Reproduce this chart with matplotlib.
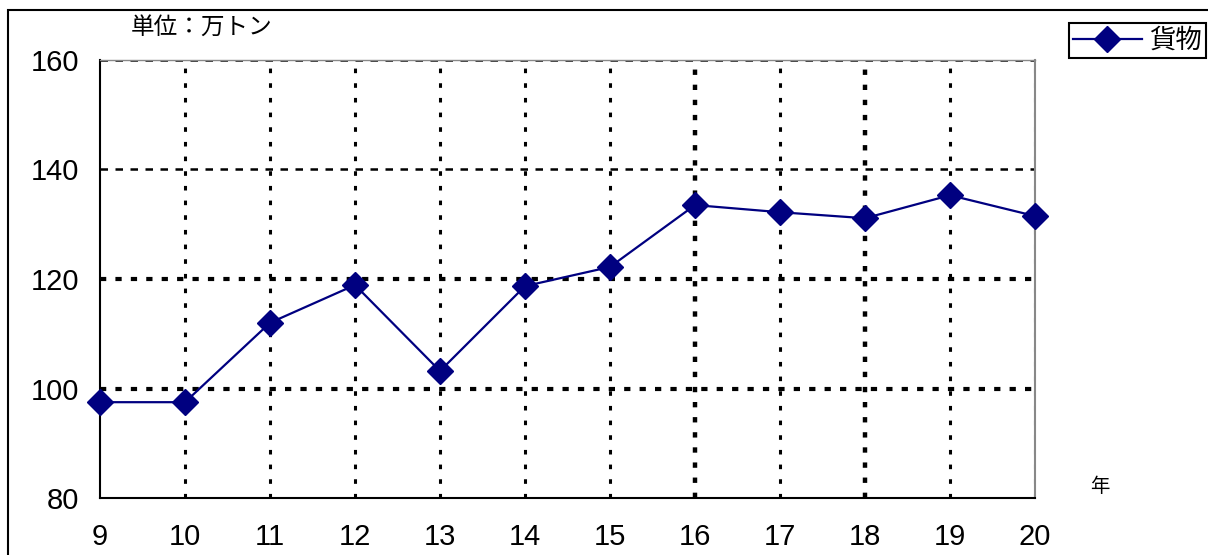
import matplotlib
matplotlib.use("Agg")
import matplotlib.pyplot as plt
from matplotlib.patches import Rectangle

years = [9, 10, 11, 12, 13, 14, 15, 16, 17, 18, 19, 20]
cargo = [97.5, 97.5, 112.0, 118.9, 103.2, 118.7, 122.2, 133.5, 132.2, 131.1, 135.3, 131.5]
yticks = [80, 100, 120, 140, 160]
series_name = "貨物"
unit_label = "単位：万トン"
x_label = "年"

plt.rcParams['font.family'] = ['Liberation Sans', 'Noto Sans CJK JP', 'DejaVu Sans']

W, H = 1208, 555
fig = plt.figure(figsize=(W/100, H/100), dpi=100)
ax = fig.add_axes([100/W, 1-498/H, (1035-100)/W, (498-60)/H])

# outer frame
fig.patches.append(Rectangle((8/W, -0.2), 2.0, 1-10/H+0.2, transform=fig.transFigure,
                             fill=False, edgecolor='black', linewidth=1.5, zorder=0))

ax.plot(years, cargo, color='#000080', linewidth=1.6, marker='D', markersize=13,
        markerfacecolor='#000080', markeredgecolor='#000080', label=series_name,
        clip_on=False, zorder=5)

ax.set_xlim(9, 20)
ax.set_ylim(80, 160)
ax.set_xticks(years)
ax.set_xticklabels([str(y) for y in years])
ax.set_yticks(yticks)
ax.tick_params(axis='both', length=0, labelsize=21)
ax.tick_params(axis='x', pad=18)
ax.tick_params(axis='y', pad=15)

# grid lines (drawn from tick positions)
thick_y = [100, 120]
thick_x = [16, 18]
for yv in yticks[1:]:
    if yv in thick_y:
        ax.axhline(yv, color='black', linewidth=3.0, linestyle=(0, (1.5, 2.2)), zorder=1)
    else:
        ax.axhline(yv, color='black', linewidth=1.8, linestyle=(0, (3.0, 3.0)), zorder=1)
for xv in years[1:]:
    if xv in thick_x:
        ax.axvline(xv, color='black', linewidth=3.2, linestyle=(0, (1.2, 2.2)), zorder=1)
    else:
        ax.axvline(xv, color='black', linewidth=2.2, linestyle=(0, (1.5, 3.3)), zorder=1)

for s in ['left', 'bottom']:
    ax.spines[s].set_color('black')
    ax.spines[s].set_linewidth(1.5)
ax.spines['right'].set_color('#888888')
ax.spines['right'].set_linewidth(1.5)
ax.spines['top'].set_color('#888888')
ax.spines['top'].set_linewidth(1.0)

fig.text(202/W, 1-27/H, unit_label, ha='center', va='center', fontsize=17,
         family=['Noto Sans CJK JP', 'DejaVu Sans'])
fig.text(1100/W, 1-487/H, x_label, ha='center', va='center', fontsize=14,
         family=['Noto Sans CJK JP', 'DejaVu Sans'])

leg = fig.legend(loc='upper left', bbox_to_anchor=(1069/W, 1-23/H), fancybox=False,
                 framealpha=1, edgecolor='black', handlelength=2.6, borderpad=0.15,
                 borderaxespad=0, handletextpad=0.3,
                 prop={'family': ['Noto Sans CJK JP'], 'size': 19})
leg.get_frame().set_linewidth(1.5)

fig.savefig("out.png", dpi=100)
